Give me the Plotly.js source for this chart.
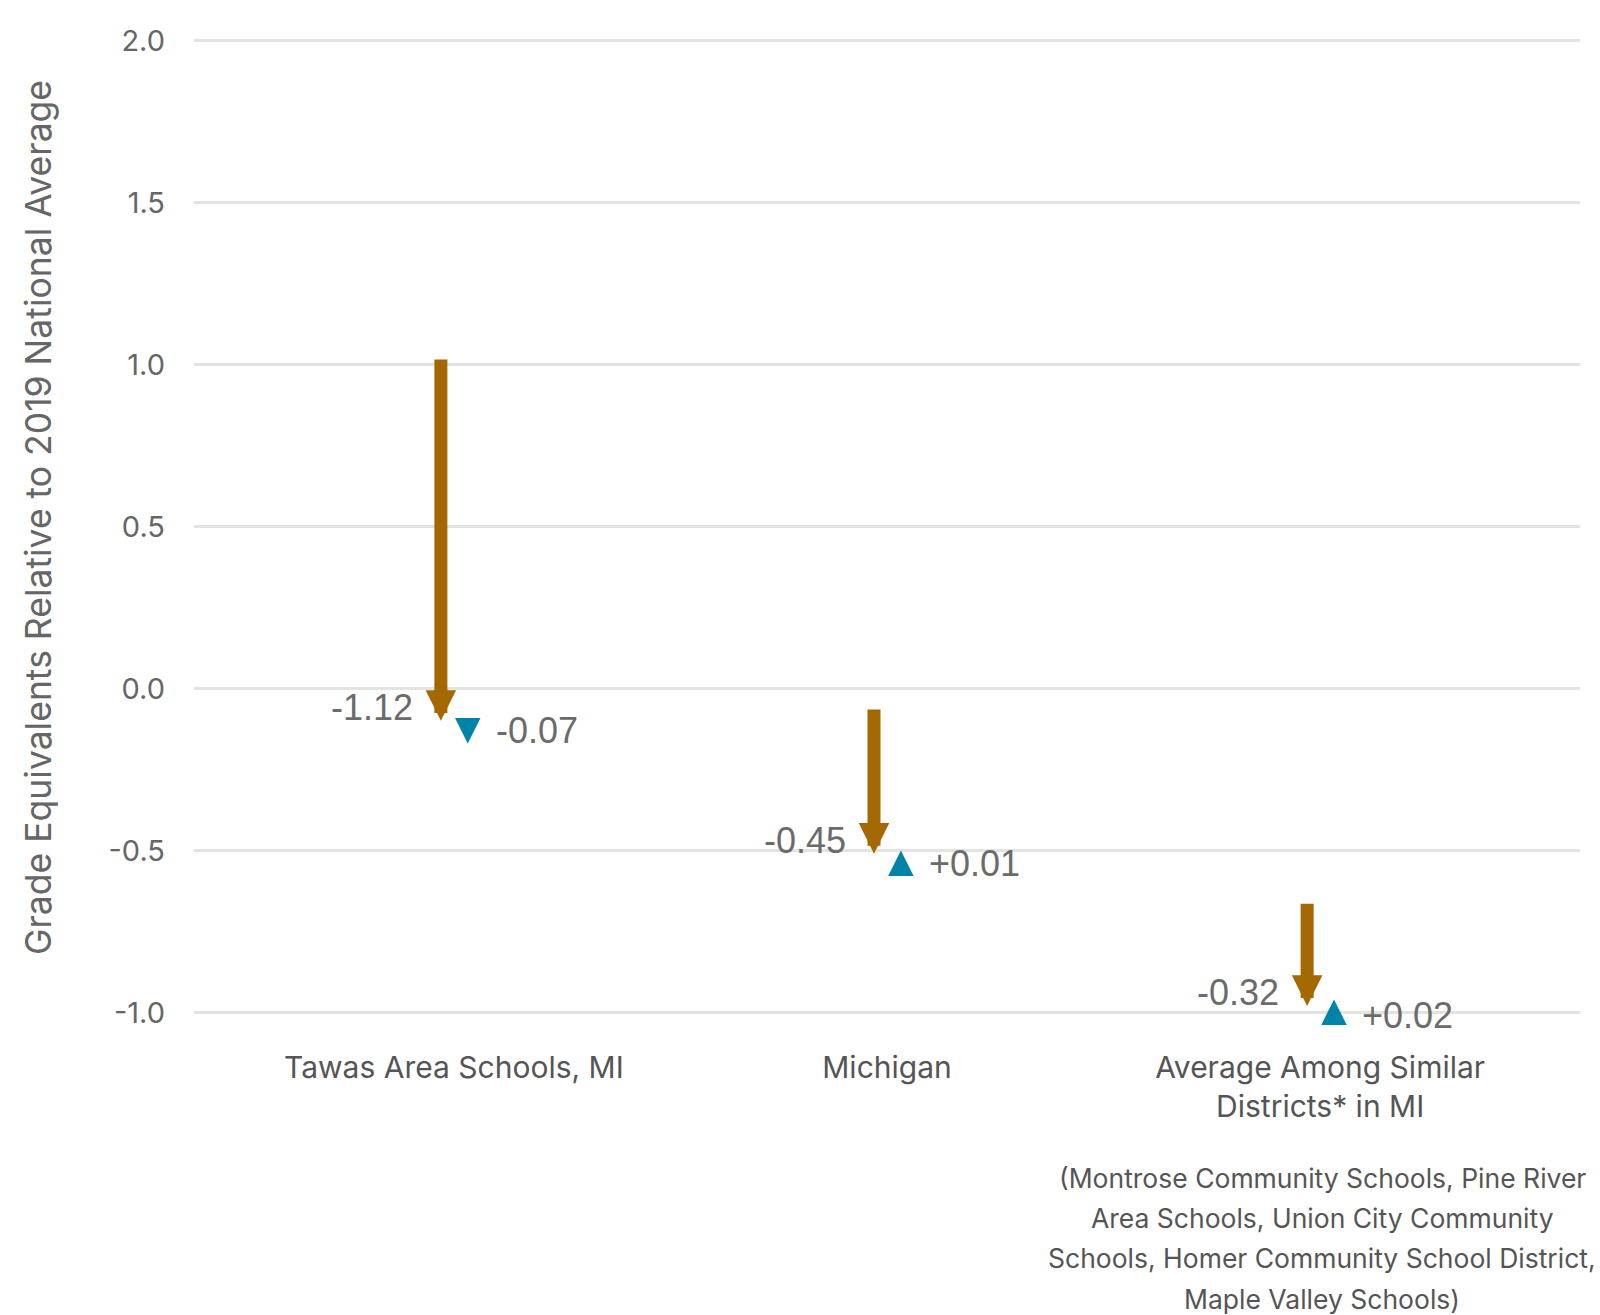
<!DOCTYPE html>
<html>
<head>
<meta charset="utf-8">
<script src="https://cdn.plot.ly/plotly-3.0.1.min.js"></script>
<style>html,body{margin:0;padding:0;background:#fff;}#chart{width:1600px;height:1315px;}</style>
</head>
<body>
<div id="chart"></div>
<script>
// ---- data ----
var categories = ["Tawas Area Schools, MI", "Michigan", "Average Among Similar<br>Districts* in MI"];
var startValues = [1.02, -0.06, -0.66];          // top of brown arrow
var declineChange = [-1.12, -0.45, -0.32];       // brown arrow change
var recoveryChange = [-0.07, 0.01, 0.02];        // blue arrow change
var declineLabels = ["-1.12", "-0.45", "-0.32"];
var recoveryLabels = ["-0.07", "+0.01", "+0.02"];
var footnoteLines = [
  "(Montrose Community Schools, Pine River",
  "Area Schools, Union City Community",
  "Schools, Homer Community School District,",
  "Maple Valley Schools)"
];
var yTickVals = [-1.0, -0.5, 0.0, 0.5, 1.0, 1.5, 2.0];
var yTickText = ["-1.0", "-0.5", "0.0", "0.5", "1.0", "1.5", "2.0"];
var yTitle = "Grade Equivalents Relative to 2019 National Average";

// ---- styles ----
var brown = "#A36800";
var blue = "#0083A9";
var textGray = "#6b6b6b";
var offBrown = -0.03, offBlue = 0.032;
var numFont = "Liberation Sans, Arial, sans-serif";
var labFont = "Inter, Liberation Sans, sans-serif";
var blueHeadPx = 22;

var annotations = [];
var xs = categories.map(function(_, i){ return i; });
xs.forEach(function(i){
  var s = startValues[i];
  var e1 = s + declineChange[i];
  var e2 = e1 + recoveryChange[i];
  // brown arrow
  annotations.push({
    x: i + offBrown, y: e1, ax: i + offBrown, ay: s,
    xref: 'x', yref: 'y', axref: 'x', ayref: 'y',
    text: '', showarrow: true, arrowhead: 2, arrowwidth: 13, arrowsize: 0.47,
    arrowcolor: brown, standoff: 0, startstandoff: 0
  });
  // blue arrow (mostly head; tail offset in pixels)
  annotations.push({
    x: i + offBlue, y: e2, ax: 0, ay: (recoveryChange[i] < 0 ? -1 : 1) * blueHeadPx,
    xref: 'x', yref: 'y',
    text: '', showarrow: true, arrowhead: 2, arrowwidth: 6, arrowsize: 0.85,
    arrowcolor: blue, standoff: 0, startstandoff: 0
  });
  // labels
  annotations.push({
    x: i + offBrown, y: e1, xref: 'x', yref: 'y', showarrow: false,
    text: declineLabels[i], xanchor: 'right', yanchor: 'middle',
    xshift: -26, yshift: 13,
    font: {family: numFont, size: 36, color: textGray}
  });
  annotations.push({
    x: i + offBlue, y: e1, xref: 'x', yref: 'y', showarrow: false,
    text: recoveryLabels[i], xanchor: 'left', yanchor: 'middle',
    xshift: 26, yshift: -10,
    font: {family: numFont, size: 36, color: textGray}
  });
});
footnoteLines.forEach(function(line, k){
  annotations.push({
    x: 2.005, y: -0.168 - k * 0.0413, xref: 'x', yref: 'paper',
    showarrow: false, text: line, xanchor: 'center', yanchor: 'middle',
    font: {family: labFont, size: 26.5, color: '#555555'}
  });
});
// y-axis title
annotations.push({
  x: -0.1126, y: 0.5097, xref: 'paper', yref: 'paper', showarrow: false,
  text: yTitle, textangle: -90, xanchor: 'center', yanchor: 'middle',
  font: {family: labFont, size: 35.5, color: '#666666'}
});

var data = [{
  x: xs, y: startValues, type: 'scatter', mode: 'markers',
  marker: {opacity: 0}, hoverinfo: 'skip', showlegend: false
}];

var layout = {
  width: 1600, height: 1315,
  margin: {l: 194, r: 20, t: 39, b: 301},
  paper_bgcolor: '#fff', plot_bgcolor: '#fff',
  showlegend: false,
  xaxis: {
    range: [-0.6, 2.6], tickmode: 'array', tickvals: xs, ticktext: categories,
    showgrid: false, zeroline: false, showline: false, ticks: '',
    ticklabelstandoff: 33,
    tickfont: {family: labFont, size: 30, color: '#555555'}
  },
  yaxis: {
    range: [-1.005, 2.005], tickmode: 'array', tickvals: yTickVals, ticktext: yTickText,
    showgrid: true, gridcolor: '#e3e3e3', gridwidth: 2.5,
    zeroline: false, showline: false, ticks: '',
    ticklabelstandoff: 28,
    tickfont: {family: labFont, size: 29, color: '#666666'}
  },
  annotations: annotations
};

Plotly.newPlot('chart', data, layout, {displayModeBar: false, staticPlot: true});
</script>
</body>
</html>
